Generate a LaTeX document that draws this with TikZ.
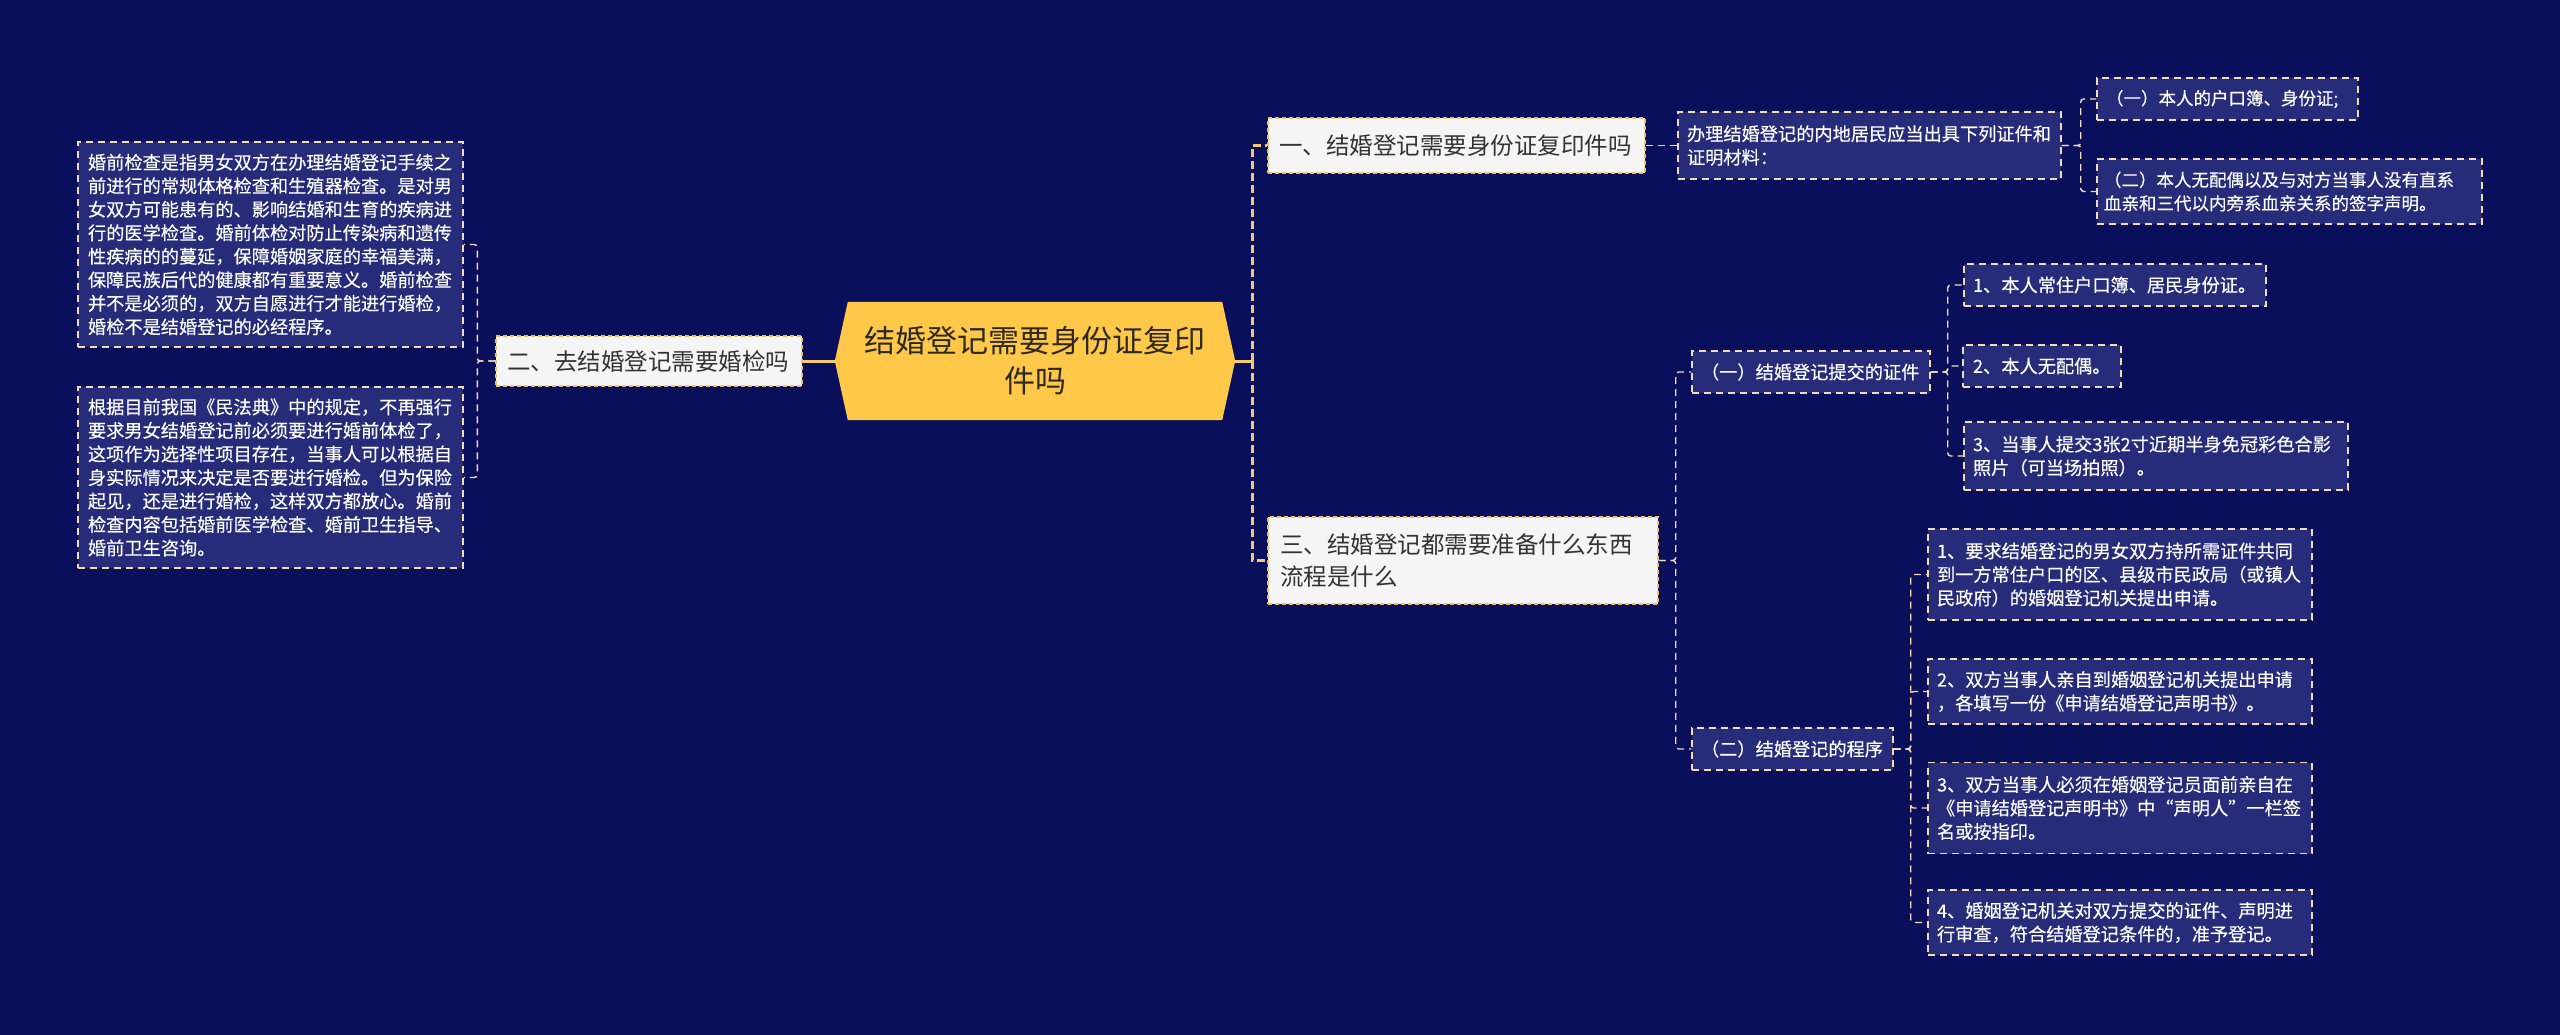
\documentclass[tikz,border=0pt]{standalone}
\usepackage{fontspec}
\newfontfamily\cjk{Noto Sans CJK SC}
\newfontfamily\cjkw[FakeBold=0.3]{Noto Sans CJK SC}
\usetikzlibrary{backgrounds}
\definecolor{bgcol}{HTML}{0A0F5C}
\definecolor{dboxfill}{HTML}{262C7A}
\definecolor{cream}{HTML}{F2DDB2}
\definecolor{lfill}{HTML}{F5F5F5}
\definecolor{lyellow}{HTML}{F2C25A}
\definecolor{ltext}{HTML}{333333}
\definecolor{rootcol}{HTML}{FFC849}
\definecolor{roottext}{HTML}{2E2A22}
\definecolor{tyellow}{HTML}{F4CA6A}
\tikzset{
  dbox/.style={draw=cream, dash pattern=on 7pt off 5pt, line width=1.4pt, fill=dboxfill,
    text=white, font=\cjkw\fontsize{18.2}{23.5}\selectfont, align=left,
    inner xsep=9pt, inner ysep=0pt},
  lbox/.style={draw=lyellow, dash pattern=on 4pt off 3pt, line width=1.4pt, fill=lfill,
    text=ltext, font=\cjk\fontsize{23.5}{32}\selectfont, align=left,
    inner xsep=11pt, inner ysep=0pt},
  conn/.style={draw=cream, dash pattern=on 7pt off 5pt, line width=1.4pt, rounded corners=3pt},
  trunk/.style={draw=tyellow, dash pattern=on 8pt off 4pt, line width=2.6pt},
  solidy/.style={draw=tyellow, line width=3pt},
}
\begin{document}
\begin{tikzpicture}[x=1pt,y=-1pt]
\useasboundingbox (0,0) rectangle (2560,1035);

% root
\node[font=\cjk\fontsize{31}{40}\selectfont, text=roottext, align=center, text width=380pt,
  minimum width=400pt, minimum height=118pt, inner sep=0pt] (root) at (1035,361)
  {结婚登记需要身份证复印\\件吗};

% level one
\node[lbox, text width=284pt, minimum height=50pt] (two) at (649,361) {二、去结婚登记需要婚检吗};
\node[lbox, text width=355pt, minimum height=55pt] (one) at (1456.5,145.5) {一、结婚登记需要身份证复印件吗};
\node[lbox, inner xsep=12pt, text width=366pt, minimum height=87pt] (three) at (1463,560.5)
  {三、结婚登记都需要准备什么东西\\流程是什么};

% left details
\node[dbox, inner xsep=10pt, text width=365pt, minimum height=205pt] (lA) at (270.5,244.5)
  {婚前检查是指男女双方在办理结婚登记手续之\\前进行的常规体格检查和生殖器检查。是对男\\女双方可能患有的、影响结婚和生育的疾病进\\行的医学检查。婚前体检对防止传染病和遗传\\性疾病的的蔓延，保障婚姻家庭的幸福美满，\\保障民族后代的健康都有重要意义。婚前检查\\并不是必须的，双方自愿进行才能进行婚检，\\婚检不是结婚登记的必经程序。};
\node[dbox, inner xsep=10pt, text width=365pt, minimum height=181pt] (lB) at (270.5,477.5)
  {根据目前我国《民法典》中的规定，不再强行\\要求男女结婚登记前必须要进行婚前体检了，\\这项作为选择性项目存在，当事人可以根据自\\身实际情况来决定是否要进行婚检。但为保险\\起见，还是进行婚检，这样双方都放心。婚前\\检查内容包括婚前医学检查、婚前卫生指导、\\婚前卫生咨询。};

% branch one
\node[dbox, text width=365pt, minimum height=67pt] (banli) at (1869.5,145.5)
  {办理结婚登记的内地居民应当出具下列证件和\\证明材料：};
\node[dbox, text width=243pt, minimum height=42pt, font=\cjkw\fontsize{17.5}{23.5}\selectfont] (tA) at (2227.5,99)
  {（一）本人的户口簿、身份证;};
\node[dbox, inner xsep=7pt, text width=371pt, minimum height=65pt, font=\cjkw\fontsize{17.5}{23.5}\selectfont] (tB) at (2289.5,191.5)
  {（二）本人无配偶以及与对方当事人没有直系\\血亲和三代以内旁系血亲关系的签字声明。};

% branch three
\node[dbox, text width=220pt, minimum height=42pt] (zj) at (1811,372) {（一）结婚登记提交的证件};
\node[dbox, text width=183pt, minimum height=42pt] (cx) at (1792.5,749) {（二）结婚登记的程序};

\node[dbox, text width=284pt, minimum height=42pt] (cA) at (2115,285) {1、本人常住户口簿、居民身份证。};
\node[dbox, inner xsep=10pt, text width=138pt, minimum height=42pt] (cB) at (2042,366) {2、本人无配偶。};
\node[dbox, text width=366pt, minimum height=68pt] (cC) at (2156,456)
  {3、当事人提交3张2寸近期半身免冠彩色合影\\照片（可当场拍照）。};

\node[dbox, text width=366pt, minimum height=91pt] (pA) at (2120,574.5)
  {1、要求结婚登记的男女双方持所需证件共同\\到一方常住户口的区、县级市民政局（或镇人\\民政府）的婚姻登记机关提出申请。};
\node[dbox, text width=366pt, minimum height=65pt] (pB) at (2120,691.5)
  {2、双方当事人亲自到婚姻登记机关提出申请\\，各填写一份《申请结婚登记声明书》。};
\node[dbox, text width=366pt, minimum height=91pt] (pC) at (2120,808)
  {3、双方当事人必须在婚姻登记员面前亲自在\\《申请结婚登记声明书》中“声明人”一栏签\\名或按指印。};
\node[dbox, text width=366pt, minimum height=65pt] (pD) at (2120,922.5)
  {4、婚姻登记机关对双方提交的证件、声明进\\行审查，符合结婚登记条件的，准予登记。};

% background and root shape
\begin{scope}[on background layer]
  \fill[bgcol] (0,0) rectangle (2560,1035);
  \fill[rootcol] (root.west) -- ([xshift=13pt]root.north west) -- ([xshift=-13pt]root.north east)
    -- (root.east) -- ([xshift=-13pt]root.south east) -- ([xshift=13pt]root.south west) -- cycle;
\end{scope}

% connectors
\draw[solidy] (two.east) -- (root.west);
\coordinate (tr) at ([xshift=17pt]root.east);
\draw[solidy] (root.east) -- (tr);
\draw[trunk] (tr) |- (one.west);
\draw[trunk] (tr) |- (three.west);

\draw[conn] (two.west) -- ++(-18,0) |- (lA.east);
\draw[conn] (two.west) -- ++(-18,0) |- (lB.east);

\draw[conn] (one.east) -- (banli.west);
\draw[conn] (banli.east) -- ++(19,0) |- (tA.west);
\draw[conn] (banli.east) -- ++(19,0) |- (tB.west);

\draw[conn] (three.east) -- ++(17,0) |- (zj.west);
\draw[conn] (three.east) -- ++(17,0) |- (cx.west);

\draw[conn] (zj.east) -- ++(17,0) |- (cA.west);
\draw[conn] (zj.east) -- ++(17,0) |- (cB.west);
\draw[conn] (zj.east) -- ++(17,0) |- (cC.west);

\draw[conn] (cx.east) -- ++(17,0) |- (pA.west);
\draw[conn] (cx.east) -- ++(17,0) |- (pB.west);
\draw[conn] (cx.east) -- ++(17,0) |- (pC.west);
\draw[conn] (cx.east) -- ++(17,0) |- (pD.west);
\end{tikzpicture}
\end{document}
